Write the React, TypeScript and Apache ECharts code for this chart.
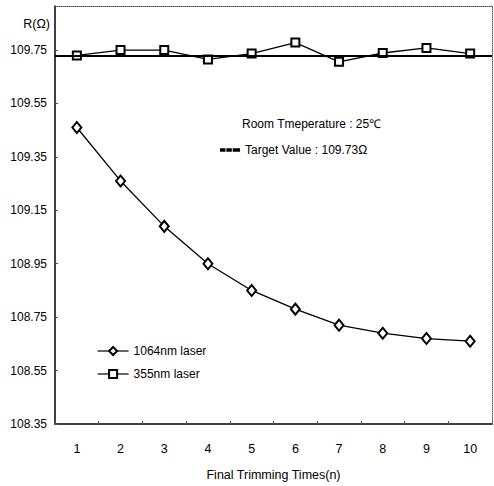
import React, { useEffect, useRef } from "react";
import * as echarts from "echarts";

const categories = ["1", "2", "3", "4", "5", "6", "7", "8", "9", "10"];
const laser1064 = [109.46, 109.26, 109.09, 108.95, 108.85, 108.78, 108.72, 108.69, 108.67, 108.66];
const laser355 = [109.73, 109.75, 109.75, 109.715, 109.737, 109.778, 109.706, 109.739, 109.758, 109.737];
const targetValue = 109.73;
const yTickValues = [108.35, 108.55, 108.75, 108.95, 109.15, 109.35, 109.55, 109.75];
const yMin = 108.35;
const yMax = 109.915;

const FONT = "'Liberation Sans', Arial, sans-serif";

export default function App() {
  const ref = useRef<HTMLDivElement>(null);
  useEffect(() => {
    if (!ref.current) return;
    const chart = echarts.init(ref.current, undefined, { renderer: "svg" });
    chart.setOption({
      animation: false,
      backgroundColor: "#fff",
      textStyle: { fontFamily: FONT, color: "#000" },
      grid: { left: 55, right: 2, top: 6, bottom: 61, containLabel: false },
      xAxis: [
        {
          type: "category",
          data: categories,
          boundaryGap: true,
          name: "Final Trimming Times(n)",
          nameLocation: "middle",
          nameGap: 44,
          nameTextStyle: { fontSize: 12.5, color: "#000", fontFamily: FONT },
          axisLine: { lineStyle: { color: "#000", width: 1.5 } },
          axisTick: { show: true, inside: true, length: 3, lineStyle: { color: "#555" } },
          axisLabel: { fontSize: 12.5, color: "#000", margin: 18, fontFamily: FONT },
          splitLine: { show: false },
        },
        {
          type: "category",
          data: categories,
          position: "top",
          axisLine: { lineStyle: { color: "#444", width: 1, type: "dotted" } },
          axisTick: { show: false },
          axisLabel: { show: false },
          splitLine: { show: false },
        },
      ],
      yAxis: [
        {
          type: "value",
          min: yMin,
          max: yMax,
          axisLine: { show: true, lineStyle: { color: "#000", width: 1.5 } },
          axisTick: { show: true, inside: true, length: 3, customValues: yTickValues, lineStyle: { color: "#555" } },
          axisLabel: {
            customValues: yTickValues,
            formatter: (v: number) => v.toFixed(2),
            fontSize: 12,
            color: "#000",
            margin: 8,
            fontFamily: FONT,
          },
          splitLine: { show: false },
        },
        {
          type: "value",
          min: yMin,
          max: yMax,
          position: "right",
          axisLine: { show: true, lineStyle: { color: "#555", width: 1, type: "dotted" } },
          axisTick: { show: false },
          axisLabel: { show: false },
          splitLine: { show: false },
        },
      ],
      legend: [
        {
          data: ["1064nm laser", "355nm laser"],
          orient: "vertical",
          left: 97,
          top: 345,
          itemWidth: 31,
          itemHeight: 10,
          itemGap: 11,
          padding: 0,
          lineStyle: { width: 1.2 },
          textStyle: { fontSize: 12, color: "#000", fontFamily: FONT },
        },
        {
          data: [
            {
              name: "Target Value : 109.73Ω",
              icon: "path://M0,0h6v4h-6z M7,0h6v4h-6z M14,0h8v4h-8z",
              itemStyle: { color: "#000" },
            },
          ],
          left: 220,
          top: 144,
          itemWidth: 20,
          itemHeight: 4,
          padding: 0,
          textStyle: { fontSize: 12, color: "#000", fontFamily: FONT },
        },
      ],
      graphic: [
        {
          type: "text",
          right: 444,
          top: 17,
          style: { text: "R(Ω)", fontSize: 12.5, fill: "#000", fontFamily: FONT },
        },
        {
          type: "text",
          left: 242,
          top: 118,
          style: { text: "Room Tmeperature : 25℃", fontSize: 12, fill: "#000", fontFamily: FONT },
        },
      ],
      series: [
        {
          name: "Target Value : 109.73Ω",
          type: "line",
          data: [],
          symbol: "none",
          itemStyle: { color: "#000" },
          lineStyle: { color: "#000", width: 3 },
          markLine: {
            silent: true,
            symbol: "none",
            label: { show: false },
            lineStyle: { color: "#000", width: 2, type: "solid" },
            data: [{ yAxis: targetValue }],
          },
        },
        {
          name: "1064nm laser",
          type: "line",
          data: laser1064,
          symbol: "emptyDiamond",
          symbolSize: [9, 11],
          itemStyle: { color: "#000", borderWidth: 1.5 },
          lineStyle: { color: "#000", width: 1.3 },
        },
        {
          name: "355nm laser",
          type: "line",
          data: laser355,
          symbol: "emptyRect",
          symbolSize: 8,
          itemStyle: { color: "#000", borderWidth: 1.3 },
          lineStyle: { color: "#000", width: 1.3 },
        },
      ],
    });
    return () => chart.dispose();
  }, []);
  return (
    <div
      ref={ref}
      style={{ position: "fixed", left: 0, top: 0, width: 494, height: 486, background: "#fff" }}
    />
  );
}
